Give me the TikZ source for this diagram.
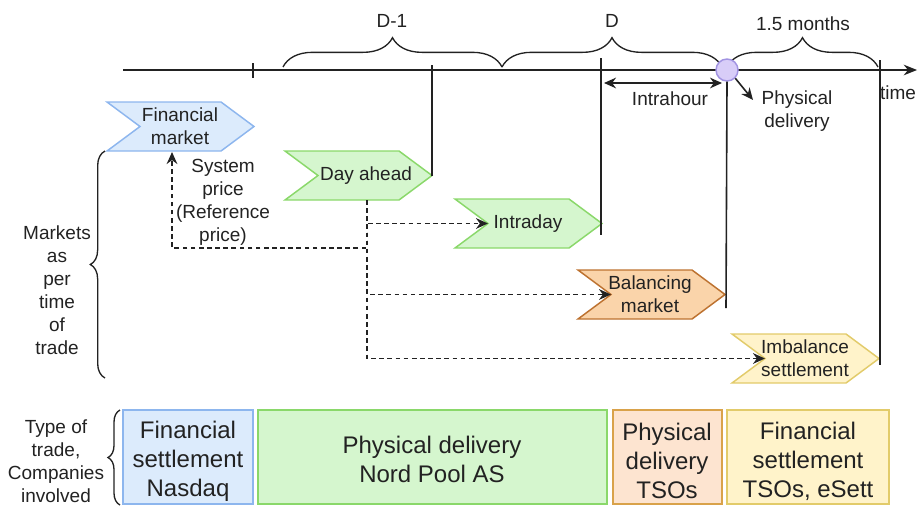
\documentclass[tikz,border=0pt]{standalone}
\usepackage{fontspec}
\setmainfont{Liberation Sans}
\usetikzlibrary{arrows.meta,decorations.pathreplacing}

\definecolor{ink}{HTML}{222222}
\definecolor{bluefill}{HTML}{DCEBFC}
\definecolor{bluedraw}{HTML}{8DB6EE}
\definecolor{greenfill}{HTML}{D5F6CE}
\definecolor{greendraw}{HTML}{8AD86A}
\definecolor{orangefill}{HTML}{FAD4AA}
\definecolor{orangedraw}{HTML}{BD7230}
\definecolor{peachfill}{HTML}{FDE4D0}
\definecolor{peachdraw}{HTML}{D9A24A}
\definecolor{yellowfill}{HTML}{FFF3CA}
\definecolor{yellowdraw}{HTML}{E2CB6A}
\definecolor{lilacfill}{HTML}{D8CDF8}
\definecolor{lilacdraw}{HTML}{A193E2}

% chevron: name, left x, top y, fill, stroke, text offset, text
\newcommand\mkchev[7]{%
  \filldraw[fill=#4,draw=#5,line width=1.1pt,line join=miter]
    (#2,#3) -- ++(114,0) -- ++(33,24.5) -- ++(-33,24.5) -- ++(-114,0) -- ++(33,-24.5) -- cycle;
  \coordinate (#1-notch) at ({#2+33},{#3+24.5});
  \coordinate (#1-tip) at ({#2+147},{#3+24.5});
  \node[lbl] (#1) at ({#2+#6},{#3+24.5}) {#7};
}

\begin{document}
\begin{tikzpicture}[x=0.75pt,y=-0.75pt,
  lbl/.style={align=center,font=\fontsize{14.25}{17.25}\selectfont,text=ink,inner sep=0pt},
  big/.style={align=center,font=\fontsize{18}{21.75}\selectfont,text=ink,inner sep=0pt},
  solidline/.style={draw=ink,line width=1.2pt},
  dashlink/.style={draw=ink,line width=1.3pt,dash pattern=on 3.5pt off 2.6pt,
    -{Stealth[length=9pt,width=8pt]}},
  curly/.style={draw=ink,line width=1pt,decorate,decoration={brace,amplitude=#1}},
  tradebox/.style 2 args={fill=#1,draw=#2,line width=1.4pt},
]
\useasboundingbox (0,0) rectangle (919,507);

% time axis
\coordinate (ax-start) at (123,70);
\coordinate (ax-end) at (917,70);
\draw[solidline,-{Stealth[length=10pt,width=8pt]}] (ax-start) -- (ax-end);
\coordinate (tick-top) at (253,63);
\coordinate (tick-bot) at (253,78);
\draw[solidline] (tick-top) -- (tick-bot);
\node[lbl] (time) at (898,93) {time};

% period braces
\coordinate (b1l) at (283,67); \coordinate (b1r) at (502,67);
\coordinate (b2l) at (502,67); \coordinate (b2r) at (722,67);
\coordinate (b3l) at (727,67); \coordinate (b3r) at (878,67);
\draw[curly=22pt] (b1l) -- (b1r);
\draw[curly=22pt] (b2l) -- (b2r);
\draw[curly=22pt] (b3l) -- (b3r);
\node[lbl] (dm1) at (392,21) {D-1};
\node[lbl] (dday) at (612,21) {D};
\node[lbl] (months) at (803,24) {1.5 months};

% market chevrons
\mkchev{fin}{107}{102}{bluefill}{bluedraw}{73}{Financial\\market}
\mkchev{da}{285}{151}{greenfill}{greendraw}{81}{Day ahead}
\mkchev{intra}{455}{199}{greenfill}{greendraw}{73}{Intraday}
\mkchev{bal}{578}{270}{orangefill}{orangedraw}{72}{Balancing\\market}
\mkchev{imb}{732}{334}{yellowfill}{yellowdraw}{73}{Imbalance\\settlement}

% gate closure lines
\coordinate (g1) at (432,65);
\coordinate (g2) at (601,58);  \coordinate (g2b) at (601,235);
\coordinate (g3b) at (726,308);
\coordinate (g4) at (880,60);  \coordinate (g4b) at (880,365);
\draw[solidline] (g1) -- (da-tip);
\draw[solidline] (g2) -- (g2b);
\draw[solidline] (g4) -- (g4b);

% delivery point
\node[circle,fill=lilacfill,draw=lilacdraw,line width=1.1pt,minimum size=16.5pt,inner sep=0pt]
  (deliv) at (727,70) {};
\draw[solidline] (deliv.south) -- (g3b);
\node[lbl] (pdel) at (797,111) {Physical\\delivery};
\coordinate (pd-arrow) at (753,100);
\draw[solidline,-{Stealth[length=9pt,width=8pt]}] (deliv.south east) -- (pd-arrow);

% intrahour span
\coordinate (ih-l) at (604,83);
\coordinate (ih-r) at (722,83);
\draw[solidline,{Stealth[length=9pt,width=8pt]}-{Stealth[length=9pt,width=8pt]}] (ih-l) -- (ih-r);
\node[lbl,fill=white,inner sep=1pt] (ih) at (670,99) {Intrahour};

% price links from the day-ahead market
\coordinate (da-bot) at (367,200);
\coordinate (sp-corner) at (172,248);
\coordinate (fin-bot) at (172,152);
\draw[dashlink] (da-bot) |- (sp-corner) -- (fin-bot);
\draw[dashlink] (da-bot) |- (intra-notch);
\draw[dashlink] (da-bot) |- (bal-notch);
\draw[dashlink] (da-bot) |- (imb-notch);
\node[lbl] (sysprice) at (223,202) {System\\price\\(Reference\\price)};

% left-hand grouping
\coordinate (mk-top) at (105,151);
\coordinate (mk-bot) at (105,378);
\draw[curly=11pt] (mk-bot) -- (mk-top);
\node[lbl] (markets) at (57,290) {Markets\\as\\per\\time\\of\\trade};

% trade types and companies
\draw[tradebox={bluefill}{bluedraw}] (123,410) rectangle (253,504);
\draw[tradebox={greenfill}{greendraw}] (258,410) rectangle (607,504);
\draw[tradebox={peachfill}{peachdraw}] (613,410) rectangle (722,504);
\draw[tradebox={yellowfill}{yellowdraw}] (727,410) rectangle (889,504);
\node[big] (t1) at (188,461) {Financial\\settlement\\Nasdaq};
\node[big] (t2) at (432,459) {Physical delivery\\Nord Pool AS};
\node[big] (t3) at (667,461) {Physical\\delivery\\TSOs};
\node[big] (t4) at (808,461) {Financial\\settlement\\TSOs, eSett};

\coordinate (ty-top) at (120,410);
\coordinate (ty-bot) at (120,505);
\draw[curly=9pt] (ty-bot) -- (ty-top);
\node[lbl] (types) at (56,461) {Type of\\trade,\\Companies\\involved};
\end{tikzpicture}
\end{document}
